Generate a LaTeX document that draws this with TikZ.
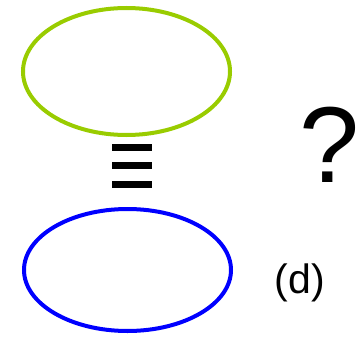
\documentclass[tikz,border=0pt]{standalone}
\usepackage{fontspec}
\setmainfont{Liberation Sans}
\usetikzlibrary{shapes.geometric}
\definecolor{lgreen}{RGB}{153,204,0}
\definecolor{pblue}{RGB}{0,0,255}
\tikzset{
  ring/.style={ellipse, draw, line width=4pt, inner sep=0pt, minimum width=207pt},
  bar/.style={fill=black, draw=none}
}
\begin{document}
\begin{tikzpicture}[x=1pt,y=1pt]
\useasboundingbox (0,0) rectangle (361,338);
\node[ring, draw=lgreen, minimum height=127pt] (top) at (126.5,266.5) {};
\node[ring, draw=pblue, minimum height=122pt] (bottom) at (127.5,68) {};
\fill[bar] (111.7,187) rectangle (152.3,194);
\fill[bar] (111.7,168.7) rectangle (152.3,175.7);
\fill[bar] (111.7,150) rectangle (152.3,157);
\node[anchor=base, inner sep=0pt, font=\fontsize{108}{108}\selectfont] (q) at (330,156) {?};
\node[anchor=base, inner sep=0pt, font=\fontsize{41}{41}\selectfont] (d) at (300,44.5) {(d)};
\end{tikzpicture}
\end{document}
